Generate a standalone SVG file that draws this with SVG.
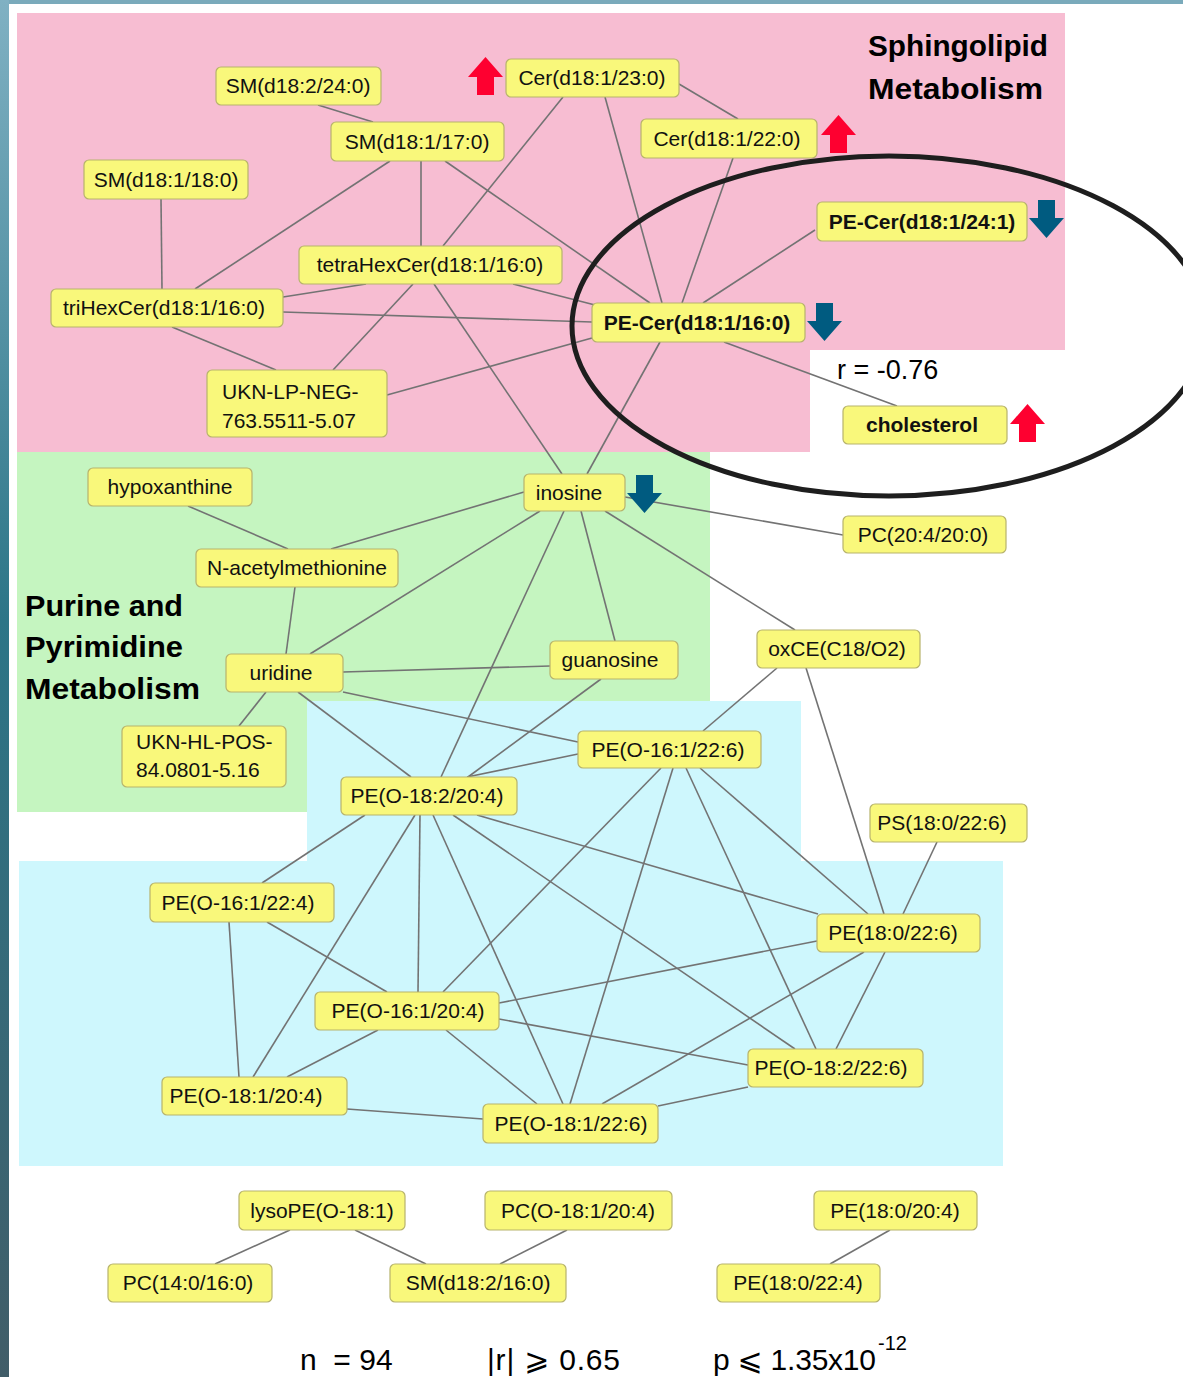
<svg xmlns="http://www.w3.org/2000/svg" width="1183" height="1377" viewBox="0 0 1183 1377">
<style>
.node rect{fill:#f9f87b;stroke:#b7b36c;stroke-width:1.2}
.node text{font-family:"Liberation Sans","DejaVu Sans",sans-serif;font-size:21px;fill:#111;text-anchor:middle}
.node text.b{font-weight:bold}
.node text.l{text-anchor:start}
#edges line{stroke:#737373;stroke-width:1.6}
.title{font-family:"Liberation Sans","DejaVu Sans",sans-serif;font-size:30px;font-weight:bold;fill:#000}
.lbl{font-family:"Liberation Sans","DejaVu Sans",sans-serif;fill:#000;white-space:pre}
.up{fill:#fe0030}
.down{fill:#005b80}
</style>
<defs>
<linearGradient id="lg" x1="0" y1="0" x2="0" y2="1">
<stop offset="0" stop-color="#80b1c3"/>
<stop offset="0.45" stop-color="#2c7587"/>
<stop offset="1" stop-color="#415d68"/>
</linearGradient>
<path id="arUp" d="M17.5,0 L35,20 L26,20 L26,38 L9,38 L9,20 L0,20 Z"/>
<path id="arDown" d="M9,0 L26,0 L26,18 L35,18 L17.5,38 L0,18 L9,18 Z"/>
</defs>
<rect width="1183" height="1377" fill="#fff"/>
<rect x="0" y="0" width="1183" height="4" fill="#7aaabb"/>
<rect x="0" y="0" width="9" height="1377" fill="url(#lg)"/>
<g id="regions">
<path d="M17,13 H1065 V350 H810 V452 H17 Z" fill="#f7bdd2"/>
<path d="M17,452 H710 V701 H307 V812 H17 Z" fill="#c5f5c0"/>
<path d="M307,701 H801 V861 H307 Z" fill="#cef7fd"/>
<path d="M19,861 H1003 V1166 H19 Z" fill="#cef7fd"/>
</g>
<g id="edges">
<line x1="318" y1="105" x2="373" y2="122"/>
<line x1="390" y1="161" x2="195" y2="289"/>
<line x1="421" y1="161" x2="421" y2="246"/>
<line x1="445" y1="161" x2="650" y2="303"/>
<line x1="161" y1="199" x2="162" y2="289"/>
<line x1="563" y1="97" x2="443" y2="246"/>
<line x1="605" y1="97" x2="662" y2="303"/>
<line x1="679" y1="84" x2="738" y2="119"/>
<line x1="733" y1="158" x2="682" y2="303"/>
<line x1="815" y1="230" x2="703" y2="303"/>
<line x1="366" y1="284" x2="283" y2="297"/>
<line x1="513" y1="284" x2="595" y2="305"/>
<line x1="413" y1="284" x2="333" y2="370"/>
<line x1="434" y1="284" x2="562" y2="474"/>
<line x1="283" y1="312" x2="592" y2="322"/>
<line x1="172" y1="327" x2="276" y2="370"/>
<line x1="387" y1="395" x2="592" y2="338"/>
<line x1="724" y1="342" x2="897" y2="406"/>
<line x1="660" y1="342" x2="587" y2="474"/>
<line x1="188" y1="506" x2="288" y2="549"/>
<line x1="331" y1="549" x2="524" y2="492"/>
<line x1="295" y1="587" x2="286" y2="654"/>
<line x1="310" y1="654" x2="540" y2="511"/>
<line x1="343" y1="672" x2="550" y2="666"/>
<line x1="266" y1="692" x2="239" y2="726"/>
<line x1="343" y1="692" x2="578" y2="742"/>
<line x1="298" y1="692" x2="411" y2="777"/>
<line x1="581" y1="511" x2="615" y2="641"/>
<line x1="564" y1="511" x2="441" y2="777"/>
<line x1="625" y1="497" x2="843" y2="535"/>
<line x1="605" y1="511" x2="795" y2="630"/>
<line x1="601" y1="679" x2="468" y2="777"/>
<line x1="777" y1="668" x2="703" y2="731"/>
<line x1="806" y1="668" x2="884" y2="914"/>
<line x1="578" y1="754" x2="467" y2="777"/>
<line x1="937" y1="842" x2="903" y2="914"/>
<line x1="365" y1="815" x2="262" y2="883"/>
<line x1="415" y1="815" x2="253" y2="1077"/>
<line x1="420" y1="815" x2="418" y2="992"/>
<line x1="433" y1="815" x2="563" y2="1104"/>
<line x1="453" y1="815" x2="795" y2="1049"/>
<line x1="477" y1="815" x2="818" y2="914"/>
<line x1="661" y1="768" x2="443" y2="992"/>
<line x1="673" y1="768" x2="570" y2="1104"/>
<line x1="686" y1="768" x2="816" y2="1049"/>
<line x1="700" y1="768" x2="868" y2="914"/>
<line x1="267" y1="922" x2="387" y2="992"/>
<line x1="229" y1="922" x2="239" y2="1077"/>
<line x1="378" y1="1030" x2="287" y2="1077"/>
<line x1="446" y1="1030" x2="537" y2="1104"/>
<line x1="499" y1="1003" x2="817" y2="941"/>
<line x1="499" y1="1019" x2="748" y2="1065"/>
<line x1="347" y1="1109" x2="483" y2="1119"/>
<line x1="602" y1="1104" x2="864" y2="952"/>
<line x1="658" y1="1106" x2="748" y2="1087"/>
<line x1="885" y1="952" x2="836" y2="1049"/>
<line x1="290" y1="1230" x2="215" y2="1264"/>
<line x1="355" y1="1230" x2="426" y2="1264"/>
<line x1="567" y1="1230" x2="500" y2="1264"/>
<line x1="890" y1="1230" x2="830" y2="1264"/>
</g>
<g id="n1" class="node"><rect x="216" y="67" width="165" height="38" rx="5"/><text x="298" y="93">SM(d18:2/24:0)</text></g>
<g id="n2" class="node"><rect x="331" y="122" width="173" height="39" rx="5"/><text x="417" y="149">SM(d18:1/17:0)</text></g>
<g id="n3" class="node"><rect x="84" y="160" width="164" height="39" rx="5"/><text x="166" y="187">SM(d18:1/18:0)</text></g>
<g id="n4" class="node"><rect x="506" y="59" width="173" height="38" rx="5"/><text x="592" y="85">Cer(d18:1/23:0)</text></g>
<g id="n5" class="node"><rect x="641" y="119" width="176" height="39" rx="5"/><text x="727" y="146">Cer(d18:1/22:0)</text></g>
<g id="n6" class="node"><rect x="817" y="202" width="210" height="39" rx="5"/><text class="b" x="922" y="229">PE-Cer(d18:1/24:1)</text></g>
<g id="n7" class="node"><rect x="299" y="246" width="263" height="38" rx="5"/><text x="430" y="272">tetraHexCer(d18:1/16:0)</text></g>
<g id="n8" class="node"><rect x="51" y="289" width="232" height="38" rx="5"/><text x="164" y="315">triHexCer(d18:1/16:0)</text></g>
<g id="n9" class="node"><rect x="592" y="303" width="213" height="39" rx="5"/><text class="b" x="697" y="330">PE-Cer(d18:1/16:0)</text></g>
<g id="n10" class="node"><rect x="207" y="370" width="180" height="67" rx="5"/><text class="l" x="222" y="399">UKN-LP-NEG-</text><text class="l" x="222" y="428">763.5511-5.07</text></g>
<g id="n11" class="node"><rect x="843" y="406" width="164" height="38" rx="5"/><text class="b" x="922" y="432">cholesterol</text></g>
<g id="n12" class="node"><rect x="88" y="468" width="164" height="38" rx="5"/><text x="170" y="494">hypoxanthine</text></g>
<g id="n13" class="node"><rect x="524" y="474" width="101" height="37" rx="5"/><text x="569" y="500">inosine</text></g>
<g id="n14" class="node"><rect x="843" y="516" width="163" height="37" rx="5"/><text x="923" y="542">PC(20:4/20:0)</text></g>
<g id="n15" class="node"><rect x="196" y="549" width="202" height="38" rx="5"/><text x="297" y="575">N-acetylmethionine</text></g>
<g id="n16" class="node"><rect x="226" y="654" width="117" height="38" rx="5"/><text x="281" y="680">uridine</text></g>
<g id="n17" class="node"><rect x="550" y="641" width="128" height="38" rx="5"/><text x="610" y="667">guanosine</text></g>
<g id="n18" class="node"><rect x="757" y="630" width="163" height="38" rx="5"/><text x="837" y="656">oxCE(C18/O2)</text></g>
<g id="n19" class="node"><rect x="122" y="726" width="164" height="61" rx="5"/><text class="l" x="136" y="749">UKN-HL-POS-</text><text class="l" x="136" y="777">84.0801-5.16</text></g>
<g id="n20" class="node"><rect x="578" y="731" width="183" height="37" rx="5"/><text x="668" y="757">PE(O-16:1/22:6)</text></g>
<g id="n21" class="node"><rect x="341" y="777" width="176" height="38" rx="5"/><text x="427" y="803">PE(O-18:2/20:4)</text></g>
<g id="n22" class="node"><rect x="870" y="804" width="157" height="38" rx="5"/><text x="942" y="830">PS(18:0/22:6)</text></g>
<g id="n23" class="node"><rect x="150" y="883" width="184" height="39" rx="5"/><text x="238" y="910">PE(O-16:1/22:4)</text></g>
<g id="n24" class="node"><rect x="817" y="914" width="163" height="38" rx="5"/><text x="893" y="940">PE(18:0/22:6)</text></g>
<g id="n25" class="node"><rect x="315" y="992" width="184" height="38" rx="5"/><text x="408" y="1018">PE(O-16:1/20:4)</text></g>
<g id="n26" class="node"><rect x="748" y="1049" width="175" height="38" rx="5"/><text x="831" y="1075">PE(O-18:2/22:6)</text></g>
<g id="n27" class="node"><rect x="162" y="1077" width="185" height="38" rx="5"/><text x="246" y="1103">PE(O-18:1/20:4)</text></g>
<g id="n28" class="node"><rect x="483" y="1104" width="175" height="39" rx="5"/><text x="571" y="1131">PE(O-18:1/22:6)</text></g>
<g id="n29" class="node"><rect x="239" y="1191" width="166" height="39" rx="5"/><text x="322" y="1218">lysoPE(O-18:1)</text></g>
<g id="n30" class="node"><rect x="485" y="1191" width="187" height="39" rx="5"/><text x="578" y="1218">PC(O-18:1/20:4)</text></g>
<g id="n31" class="node"><rect x="814" y="1191" width="163" height="39" rx="5"/><text x="895" y="1218">PE(18:0/20:4)</text></g>
<g id="n32" class="node"><rect x="108" y="1264" width="164" height="38" rx="5"/><text x="188" y="1290">PC(14:0/16:0)</text></g>
<g id="n33" class="node"><rect x="390" y="1264" width="176" height="38" rx="5"/><text x="478" y="1290">SM(d18:2/16:0)</text></g>
<g id="n34" class="node"><rect x="717" y="1264" width="163" height="38" rx="5"/><text x="798" y="1290">PE(18:0/22:4)</text></g>
<ellipse cx="889" cy="326" rx="317" ry="170" fill="none" stroke="#1e1e1e" stroke-width="5"/>
<g id="arrows">
<use href="#arUp" class="up" x="468" y="57"/>
<use href="#arUp" class="up" x="821" y="115"/>
<use href="#arUp" class="up" x="1010" y="404"/>
<use href="#arDown" class="down" x="1029" y="200"/>
<use href="#arDown" class="down" x="807" y="303"/>
<use href="#arDown" class="down" x="627" y="475"/>
</g>
<g id="labels">
<text class="title" x="868" y="56" textLength="180" lengthAdjust="spacingAndGlyphs">Sphingolipid</text>
<text class="title" x="868" y="99" textLength="175" lengthAdjust="spacingAndGlyphs">Metabolism</text>
<text class="title" x="25" y="616" textLength="158" lengthAdjust="spacingAndGlyphs">Purine and</text>
<text class="title" x="25" y="657" textLength="158" lengthAdjust="spacingAndGlyphs">Pyrimidine</text>
<text class="title" x="25" y="699" textLength="175" lengthAdjust="spacingAndGlyphs">Metabolism</text>
<text class="lbl" x="837" y="379" font-size="27">r = -0.76</text>
<text class="lbl" x="300" y="1370" font-size="30" xml:space="preserve">n  = 94</text>
<text class="lbl" x="487" y="1370" font-size="30" textLength="133" lengthAdjust="spacing">|r| ⩾ 0.65</text>
<text class="lbl" x="713" y="1370" font-size="30" textLength="163" lengthAdjust="spacing">p ⩽ 1.35x10</text>
<text class="lbl" x="878" y="1350" font-size="20">-12</text>
</g>
</svg>
